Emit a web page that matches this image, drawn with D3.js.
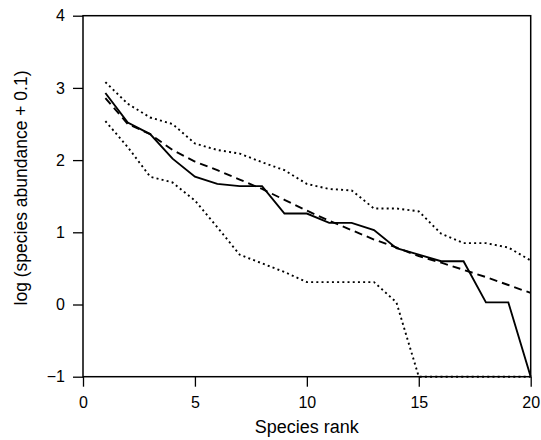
<!DOCTYPE html>
<html><head><meta charset="utf-8">
<script src="https://cdn.jsdelivr.net/npm/d3@7"></script>
<style>body{margin:0;background:#fff}svg{display:block}text{font-family:"Liberation Sans",Arial,sans-serif}</style>
</head><body><svg id="c" width="541" height="440"></svg>
<script>
const ranks = d3.range(1, 21);
const observed = [2.93,2.52,2.36,2.02,1.77,1.67,1.64,1.64,1.26,1.26,1.13,1.13,1.03,0.78,0.69,0.60,0.60,0.03,0.03,-1];
const fitted   = [2.86,2.50,2.36,2.14,1.98,1.86,1.73,1.60,1.45,1.30,1.16,1.03,0.90,0.79,0.67,0.58,0.48,0.38,0.27,0.16];
const upper    = [3.08,2.78,2.59,2.50,2.23,2.14,2.09,1.97,1.86,1.67,1.60,1.58,1.33,1.33,1.29,0.98,0.85,0.85,0.79,0.61];
const lower    = [2.54,2.18,1.77,1.69,1.44,1.07,0.69,0.57,0.45,0.31,0.31,0.31,0.31,0.03,-1,-1,-1,-1,-1,-1];
const xTicks = [0,5,10,15,20];
const yTicks = [-1,0,1,2,3,4];

const svg = d3.select("#c");
const L=83, R=530.7, T=15.7, B=376.7;
const x = d3.scaleLinear().domain([0,20]).range([L,R]);
const y = d3.scaleLinear().domain([-1,4]).range([B,T]);

const line = d3.line().x((d,i)=>x(ranks[i])).y(d=>y(d));
const series = [
  {v: upper, dash:"2,3.2", w:1.9},
  {v: lower, dash:"2,3.2", w:1.9},
  {v: fitted, dash:"8,5", w:1.9},
  {v: observed, dash:null, w:1.9}
];
series.forEach(s=>{
  svg.append("path").attr("d", line(s.v)).attr("fill","none").attr("stroke","#000")
    .attr("stroke-width", s.w).attr("stroke-dasharray", s.dash);
});

svg.append("rect").attr("x",L).attr("y",T).attr("width",R-L).attr("height",B-T)
  .attr("fill","none").attr("stroke","#000").attr("stroke-width",1.5);

const xa = svg.append("g").attr("transform",`translate(0,${B})`)
  .call(d3.axisBottom(x).tickValues(xTicks).tickSize(10).tickSizeOuter(0).tickPadding(10).tickFormat(d3.format("d")));
const ya = svg.append("g").attr("transform",`translate(${L},0)`)
  .call(d3.axisLeft(y).tickValues(yTicks).tickSize(10).tickSizeOuter(0).tickPadding(8).tickFormat(d3.format("d")));
[xa,ya].forEach(a=>{
  a.select(".domain").remove();
  a.selectAll("line").attr("stroke","#000").attr("stroke-width",1.3);
  a.selectAll("text").attr("font-size",16).attr("fill","#000").attr("font-family","Liberation Sans, Arial, sans-serif");
});

svg.append("text").attr("x",(L+R)/2).attr("y",433).attr("text-anchor","middle")
  .attr("font-size",18).text("Species rank");
svg.append("text").attr("transform",`translate(27,188) rotate(-90)`).attr("text-anchor","middle")
  .attr("font-size",17.5).text("log (species abundance + 0.1)");
</script></body></html>
